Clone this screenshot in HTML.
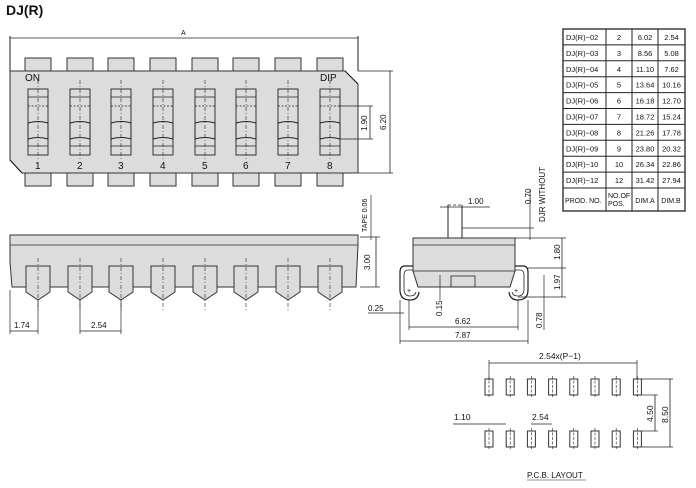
<!DOCTYPE html>
<html><head><meta charset="utf-8"><style>
body{margin:0;background:#fff}
svg{display:block}
text{font-family:"Liberation Sans",sans-serif;fill:#111}
</style></head><body>
<svg id="s" width="696" height="488" viewBox="0 0 696 488" xmlns="http://www.w3.org/2000/svg" stroke="#222" stroke-width="1" fill="none">
<text x="6" y="15" font-size="14" font-weight="bold" stroke="none">DJ(R)</text>
<line x1="10" y1="36" x2="10" y2="71"/><line x1="358" y1="36" x2="358" y2="71"/>
<line x1="10" y1="38" x2="358" y2="38" stroke-width="0.8"/>
<text x="181" y="35" font-size="7" stroke="none">A</text>
<g id="top"></g>
<path d="M10 71 H345 L358 84 V173 H22 L10 160 Z" fill="#dcdcdc" stroke="#333"/>
<line x1="345" y1="71" x2="358" y2="84"/><line x1="10" y1="160" x2="22" y2="173"/>
<text x="25" y="81" font-size="10" stroke="none">ON</text>
<text x="320" y="81" font-size="10" stroke="none">DIP</text>
<g id="sw"></g>
<line x1="358" y1="71" x2="393" y2="71" stroke-width="0.7"/><line x1="358" y1="173" x2="393" y2="173" stroke-width="0.7"/>
<line x1="390" y1="71" x2="390" y2="173" stroke-width="0.8"/>
<text transform="translate(386,130) rotate(-90)" font-size="8" stroke="none">6.20</text>
<line x1="340" y1="106" x2="373" y2="106" stroke-width="0.7"/><line x1="340" y1="139" x2="373" y2="139" stroke-width="0.7"/>
<line x1="370" y1="106" x2="370" y2="139" stroke-width="0.8"/>
<text transform="translate(367,131) rotate(-90)" font-size="8" stroke="none">1.90</text>
<path d="M10 235 H358 V245 L356 287 H12 L10 262 Z" fill="#dcdcdc" stroke="#333"/>
<line x1="10" y1="245" x2="358" y2="245" stroke="#555"/>
<g id="side"></g>
<line x1="10" y1="290" x2="10" y2="334" stroke-width="0.7"/>
<line x1="10" y1="331" x2="38" y2="331" stroke-width="0.7"/>
<text x="14" y="328" font-size="8" stroke="none">1.74</text>
<line x1="80" y1="331" x2="121" y2="331" stroke-width="0.7"/>
<text x="91" y="328" font-size="8" stroke="none">2.54</text>
<line x1="360" y1="237" x2="380" y2="237" stroke-width="0.7"/><line x1="360" y1="287" x2="380" y2="287" stroke-width="0.7"/>
<line x1="376" y1="237" x2="376" y2="287" stroke-width="0.8"/>
<line x1="371" y1="195" x2="371" y2="240" stroke-width="0.7"/>
<text transform="translate(370,270) rotate(-90)" font-size="8" stroke="none">3.00</text>
<text transform="translate(367,232) rotate(-90)" font-size="7" stroke="none">TAPE  0.06</text>
<rect x="448" y="205" width="14" height="33" stroke-dasharray="3,2" stroke-width="0.8"/>
<line x1="448" y1="205" x2="448" y2="238"/><line x1="462" y1="205" x2="462" y2="238"/>
<line x1="440" y1="207" x2="490" y2="207" stroke-width="0.7"/>
<text x="468" y="204" font-size="8" stroke="none">1.00</text>
<line x1="462" y1="228" x2="534" y2="228" stroke-width="0.7"/>
<line x1="530" y1="190" x2="530" y2="240" stroke-width="0.7"/>
<text transform="translate(531,204) rotate(-90)" font-size="8" stroke="none">0.70</text>
<text transform="translate(545,222) rotate(-90)" font-size="8" stroke="none">DJR  WITHOUT</text>
<path d="M413 238 H515 V271 L510 287 H418 L413 271 Z" fill="#dcdcdc" stroke="#333"/>
<line x1="413" y1="245" x2="515" y2="245" stroke="#555"/>
<line x1="413" y1="271" x2="515" y2="271" stroke-width="0.7"/>
<rect x="451" y="276" width="24" height="11" stroke-width="0.8"/>
<path d="M413 266 H405 Q400 266 400 272 V290 Q400 300 410 300 Q418 300 419 292" stroke-width="1.2"/>
<path d="M413 270 H408 Q404 270 404 275 V289 Q404 296 410 296 Q415 296 416 292" stroke-width="0.8"/>
<path d="M515 266 H523 Q528 266 528 272 V290 Q528 300 518 300 Q510 300 509 292" stroke-width="1.2"/>
<path d="M515 270 H520 Q524 270 524 275 V289 Q524 296 518 296 Q513 296 512 292" stroke-width="0.8"/>
<text x="407" y="293" font-size="7" stroke="none">+</text><text x="514" y="293" font-size="7" stroke="none">+</text>
<line x1="440" y1="275" x2="440" y2="300" stroke-width="0.7"/>
<text transform="translate(442,316) rotate(-90)" font-size="8" stroke="none">0.15</text>
<line x1="368" y1="313" x2="404" y2="313" stroke-width="0.7"/>
<text x="368" y="311" font-size="8" stroke="none">0.25</text>
<line x1="400" y1="300" x2="400" y2="344" stroke-width="0.7"/><line x1="528" y1="300" x2="528" y2="344" stroke-width="0.7"/>
<line x1="409" y1="300" x2="409" y2="330" stroke-width="0.7"/><line x1="518" y1="300" x2="518" y2="330" stroke-width="0.7"/>
<line x1="409" y1="327" x2="518" y2="327" stroke-width="0.8"/>
<text x="455" y="324" font-size="8" stroke="none">6.62</text>
<line x1="400" y1="341" x2="528" y2="341" stroke-width="0.8"/>
<text x="455" y="338" font-size="8" stroke="none">7.87</text>
<line x1="515" y1="238" x2="566" y2="238" stroke-width="0.7"/><line x1="528" y1="268" x2="566" y2="268" stroke-width="0.7"/>
<line x1="518" y1="297" x2="566" y2="297" stroke-width="0.7"/>
<line x1="562" y1="238" x2="562" y2="297" stroke-width="0.8"/>
<text transform="translate(560,260) rotate(-90)" font-size="8" stroke="none">1.80</text>
<text transform="translate(560,290) rotate(-90)" font-size="8" stroke="none">1.97</text>
<line x1="544" y1="275" x2="544" y2="330" stroke-width="0.7"/>
<text transform="translate(542,328) rotate(-90)" font-size="8" stroke="none">0.78</text>
<g id="tbl" stroke-width="1"></g>
<g id="pcb"></g>
<line x1="489" y1="360" x2="489" y2="380" stroke-width="0.7"/><line x1="637" y1="360" x2="637" y2="380" stroke-width="0.7"/>
<line x1="489" y1="363" x2="637" y2="363" stroke-width="0.8"/>
<text x="539" y="359" font-size="8.5" stroke="none">2.54x(P−1)</text>
<line x1="642" y1="379" x2="673" y2="379" stroke-width="0.7"/><line x1="642" y1="447" x2="673" y2="447" stroke-width="0.7"/>
<line x1="642" y1="395" x2="658" y2="395" stroke-width="0.7"/><line x1="642" y1="431" x2="658" y2="431" stroke-width="0.7"/>
<line x1="655" y1="395" x2="655" y2="431" stroke-width="0.8"/><line x1="670" y1="379" x2="670" y2="447" stroke-width="0.8"/>
<text transform="translate(653,422) rotate(-90)" font-size="8.5" stroke="none">4.50</text>
<text transform="translate(668,423) rotate(-90)" font-size="8.5" stroke="none">8.50</text>
<line x1="453" y1="424" x2="506" y2="424" stroke-width="0.7"/>
<text x="454" y="420" font-size="8.5" stroke="none">1.10</text>
<line x1="531" y1="424" x2="552" y2="424" stroke-width="0.7"/>
<text x="532" y="420" font-size="8.5" stroke="none">2.54</text>
<text x="527" y="478" font-size="8" stroke="none">P.C.B.  LAYOUT</text>
<line x1="527" y1="480" x2="586" y2="480" stroke-width="0.6"/>
</svg>
<script>
(function(){
var NS="http://www.w3.org/2000/svg";
function el(p,t,a,txt){var e=document.createElementNS(NS,t);for(var k in a)e.setAttribute(k,a[k]);if(txt!=null)e.textContent=txt;document.getElementById(p).appendChild(e);return e;}
var cx=[38,80,121,163,205,246,288,330];
cx.forEach(function(c,i){
 el("top","rect",{x:c-13,y:58,width:26,height:14,fill:"#dcdcdc",stroke:"#333"});
 el("top","rect",{x:c-13,y:172,width:26,height:14,fill:"#dcdcdc",stroke:"#333"});
 el("sw","rect",{x:c-10,y:89,width:20,height:66,fill:"none",stroke:"#333"});
 el("sw","line",{x1:c-10,y1:97,x2:c+10,y2:97,"stroke-width":0.7});
 el("sw","line",{x1:c-10,y1:106,x2:c+10,y2:106,"stroke-width":0.7,"stroke-dasharray":"2,1.5"});
 el("sw","path",{d:"M"+(c-10)+" 123 Q"+c+" 120 "+(c+10)+" 123 V139 Q"+c+" 136 "+(c-10)+" 139 Z","stroke-width":1});
 el("sw","line",{x1:c-10,y1:146,x2:c+10,y2:146,"stroke-width":0.7});
 el("sw","line",{x1:c,y1:80,x2:c,y2:161,"stroke-width":0.6,"stroke-dasharray":"4,2,1,2"});
 el("sw","text",{x:c-3,y:169,"font-size":10,stroke:"none"},""+(i+1));
 el("side","path",{d:"M"+(c-12)+" 266 H"+(c+12)+" V292 L"+c+" 300 L"+(c-12)+" 292 Z",fill:"#dcdcdc",stroke:"#333"});
 el("side","line",{x1:c,y1:258,x2:c,y2:312,"stroke-width":0.6,"stroke-dasharray":"4,2,1,2"});
 var px=489+i*21.2;
 [379,431].forEach(function(y){
  el("pcb","rect",{x:px-4,y:y,width:8,height:16,stroke:"#333"});
  el("pcb","line",{x1:px,y1:y-3,x2:px,y2:y+19,"stroke-width":0.6,"stroke-dasharray":"3,1.5"});
 });
});
el("side","line",{x1:38,y1:300,x2:38,y2:334,"stroke-width":0.7});
el("side","line",{x1:80,y1:300,x2:80,y2:334,"stroke-width":0.7});
el("side","line",{x1:121,y1:300,x2:121,y2:334,"stroke-width":0.7});
var rows=[["DJ(R)−02","2","6.02","2.54"],["DJ(R)−03","3","8.56","5.08"],["DJ(R)−04","4","11.10","7.62"],["DJ(R)−05","5","13.64","10.16"],["DJ(R)−06","6","16.18","12.70"],["DJ(R)−07","7","18.72","15.24"],["DJ(R)−08","8","21.26","17.78"],["DJ(R)−09","9","23.80","20.32"],["DJ(R)−10","10","26.34","22.86"],["DJ(R)−12","12","31.42","27.94"]];
var xs=[563,606,632,658,685],ty=29,rh=15.9;
rows.forEach(function(r,i){var y=ty+i*rh;
 el("tbl","line",{x1:563,y1:y,x2:685,y2:y});
 r.forEach(function(t,j){var cw=xs[j+1]-xs[j];el("tbl","text",{x:j==0?566:xs[j]+cw/2,y:y+11,"font-size":7.5,stroke:"none","text-anchor":j==0?"start":"middle"},t);});
});
var yl=ty+10*rh,yb=yl+23;
el("tbl","line",{x1:563,y1:yl,x2:685,y2:yl});
el("tbl","text",{x:565,y:yl+15,"font-size":7,stroke:"none"},"PROD. NO.");
el("tbl","text",{x:608,y:yl+10,"font-size":7,stroke:"none"},"NO.OF");
el("tbl","text",{x:608,y:yl+18,"font-size":7,stroke:"none"},"POS.");
el("tbl","text",{x:645,y:yl+15,"font-size":7,stroke:"none","text-anchor":"middle"},"DIM.A");
el("tbl","text",{x:671,y:yl+15,"font-size":7,stroke:"none","text-anchor":"middle"},"DIM.B");
el("tbl","rect",{x:563,y:ty,width:122,height:yb-ty,"stroke-width":1.3});
xs.slice(1,4).forEach(function(x){el("tbl","line",{x1:x,y1:ty,x2:x,y2:yb});});
})();
</script>
</body></html>
